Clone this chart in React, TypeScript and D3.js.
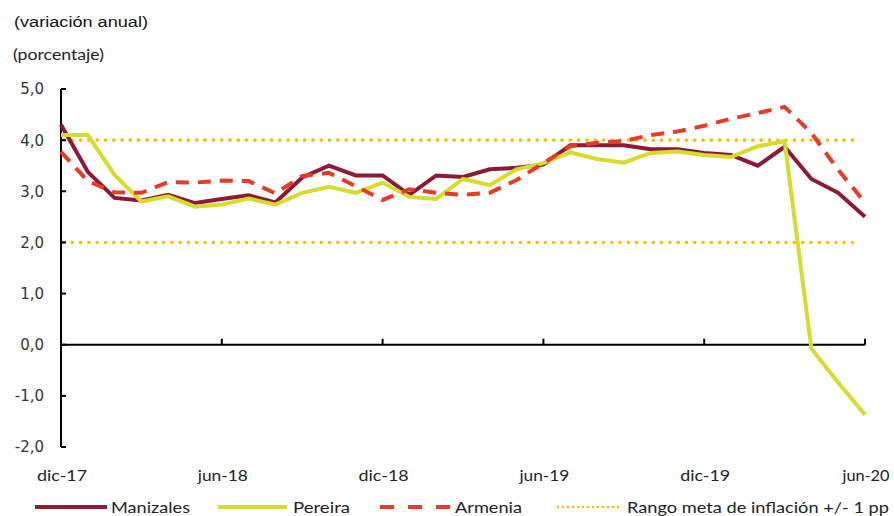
import React from "react";
import * as d3 from "d3";

const months = [
  "dic-17","ene-18","feb-18","mar-18","abr-18","may-18","jun-18","jul-18","ago-18","sep-18","oct-18","nov-18",
  "dic-18","ene-19","feb-19","mar-19","abr-19","may-19","jun-19","jul-19","ago-19","sep-19","oct-19","nov-19",
  "dic-19","ene-20","feb-20","mar-20","abr-20","may-20","jun-20",
];
const manizales = [4.3,3.38,2.87,2.82,2.93,2.77,2.85,2.92,2.78,3.27,3.5,3.31,3.31,2.93,3.31,3.28,3.43,3.46,3.52,3.9,3.9,3.9,3.82,3.82,3.75,3.71,3.5,3.87,3.24,2.97,2.5];
const pereira = [4.1,4.1,3.32,2.8,2.9,2.7,2.74,2.86,2.74,2.97,3.09,2.97,3.17,2.89,2.85,3.24,3.12,3.43,3.55,3.76,3.63,3.56,3.75,3.78,3.71,3.67,3.88,3.98,-0.08,-0.74,-1.37];
const armenia = [3.77,3.2,2.98,2.97,3.18,3.17,3.21,3.2,2.96,3.3,3.36,3.1,2.83,3.04,2.97,2.93,2.97,3.22,3.55,3.88,3.95,3.98,4.1,4.17,4.28,4.42,4.53,4.65,4.14,3.42,2.78];
const targetBand = [2, 4];
const yTicks = [5, 4, 3, 2, 1, 0, -1, -2];
const xTickLabels = ["dic-17", "jun-18", "dic-18", "jun-19", "dic-19", "jun-20"];

const C_MAN = "#8b1a35";
const C_PER = "#d5dc2e";
const C_ARM = "#e83a2a";
const C_BAND = "#f7bd00";

export default function App() {
  const x = d3.scaleLinear().domain([0, months.length - 1]).range([61, 865]);
  const y = d3.scaleLinear().domain([-2, 5]).range([447, 89]);
  const line = d3
    .line<number>()
    .x((_, i) => x(i))
    .y((d) => y(d));
  const fmt = (v: number) => v.toFixed(1).replace(".", ",");
  const tickFont = "'DejaVu Sans', sans-serif";
  const labFont = "Lato, 'Open Sans', sans-serif";

  const legend = [
    { key: "Manizales", x0: 35, x1: 107, tx: 111, tw: 79, color: C_MAN, type: "solid" },
    { key: "Pereira", x0: 218, x1: 287, tx: 293, tw: 57, color: C_PER, type: "solid" },
    { key: "Armenia", x0: 380, x1: 450, tx: 455, tw: 67, color: C_ARM, type: "dash" },
    { key: "Rango meta de inflación +/- 1 pp", x0: 558, x1: 621, tx: 627, tw: 262, color: C_BAND, type: "dot" },
  ];

  return (
    <svg
      width={894}
      height={516}
      style={{ position: "absolute", left: 0, top: 0, background: "#fff" }}
    >
      <text x={14} y={27} fontFamily="'Liberation Sans', Arial, sans-serif" fontSize={15.5} fill="#111" textLength={134} lengthAdjust="spacingAndGlyphs">
        (variación anual)
      </text>
      <text x={13} y={60} fontFamily={labFont} fontSize={14.5} fill="#222" textLength={91} lengthAdjust="spacingAndGlyphs">
        (porcentaje)
      </text>

      {/* target band dotted lines */}
      {targetBand.map((v) => (
        <line
          key={v}
          x1={64}
          x2={859}
          y1={y(v)}
          y2={y(v)}
          stroke={C_BAND}
          strokeWidth={3.6}
          strokeLinecap="round"
          strokeDasharray="0 8.3"
        />
      ))}

      {/* y axis */}
      <line x1={61} x2={61} y1={y(5)} y2={y(-2)} stroke="#000" strokeWidth={2} />
      {yTicks.map((t) => (
        <g key={t}>
          <line x1={61} x2={66} y1={y(t)} y2={y(t)} stroke="#000" strokeWidth={2} />
          <text
            x={44}
            y={y(t)}
            dy="0.36em"
            textAnchor="end"
            fontFamily={tickFont}
            fontSize={15}
            fill="#333"
          >
            {fmt(t)}
          </text>
        </g>
      ))}

      {/* x axis at zero */}
      <line x1={61} x2={865} y1={y(0)} y2={y(0)} stroke="#000" strokeWidth={2} />
      {xTickLabels.map((lab) => {
        const i = months.indexOf(lab);
        return (
          <g key={lab}>
            {i > 0 && <line x1={x(i)} x2={x(i)} y1={y(0)} y2={y(0) - 6} stroke="#000" strokeWidth={2} />}
            <text
              x={x(i) + 1}
              y={481}
              textAnchor="middle"
              fontFamily={labFont}
              fontSize={16}
              fill="#222"
              textLength={lab === "jun-20" ? 47 : 50}
              lengthAdjust="spacingAndGlyphs"
            >
              {lab}
            </text>
          </g>
        );
      })}

      {/* series */}
      <path d={line(manizales) || ""} fill="none" stroke={C_MAN} strokeWidth={4} strokeLinejoin="miter" />
      <path d={line(pereira) || ""} fill="none" stroke={C_PER} strokeWidth={4} strokeLinejoin="miter" />
      <path d={line(armenia) || ""} fill="none" stroke={C_ARM} strokeWidth={4} strokeDasharray="13 9" />

      {/* legend */}
      {legend.map((l) => (
        <g key={l.key}>
          <line
            x1={l.x0}
            x2={l.x1}
            y1={507}
            y2={507}
            stroke={l.color}
            strokeWidth={l.type === "dot" ? 2.5 : 4}
            strokeLinecap={l.type === "dot" ? "round" : "butt"}
            strokeDasharray={l.type === "dash" ? "14 14" : l.type === "dot" ? "0 5" : undefined}
          />
          <text
            x={l.tx}
            y={513}
            fontFamily={labFont}
            fontSize={16}
            fill="#222"
            textLength={l.tw}
            lengthAdjust="spacingAndGlyphs"
          >
            {l.key}
          </text>
        </g>
      ))}
    </svg>
  );
}
